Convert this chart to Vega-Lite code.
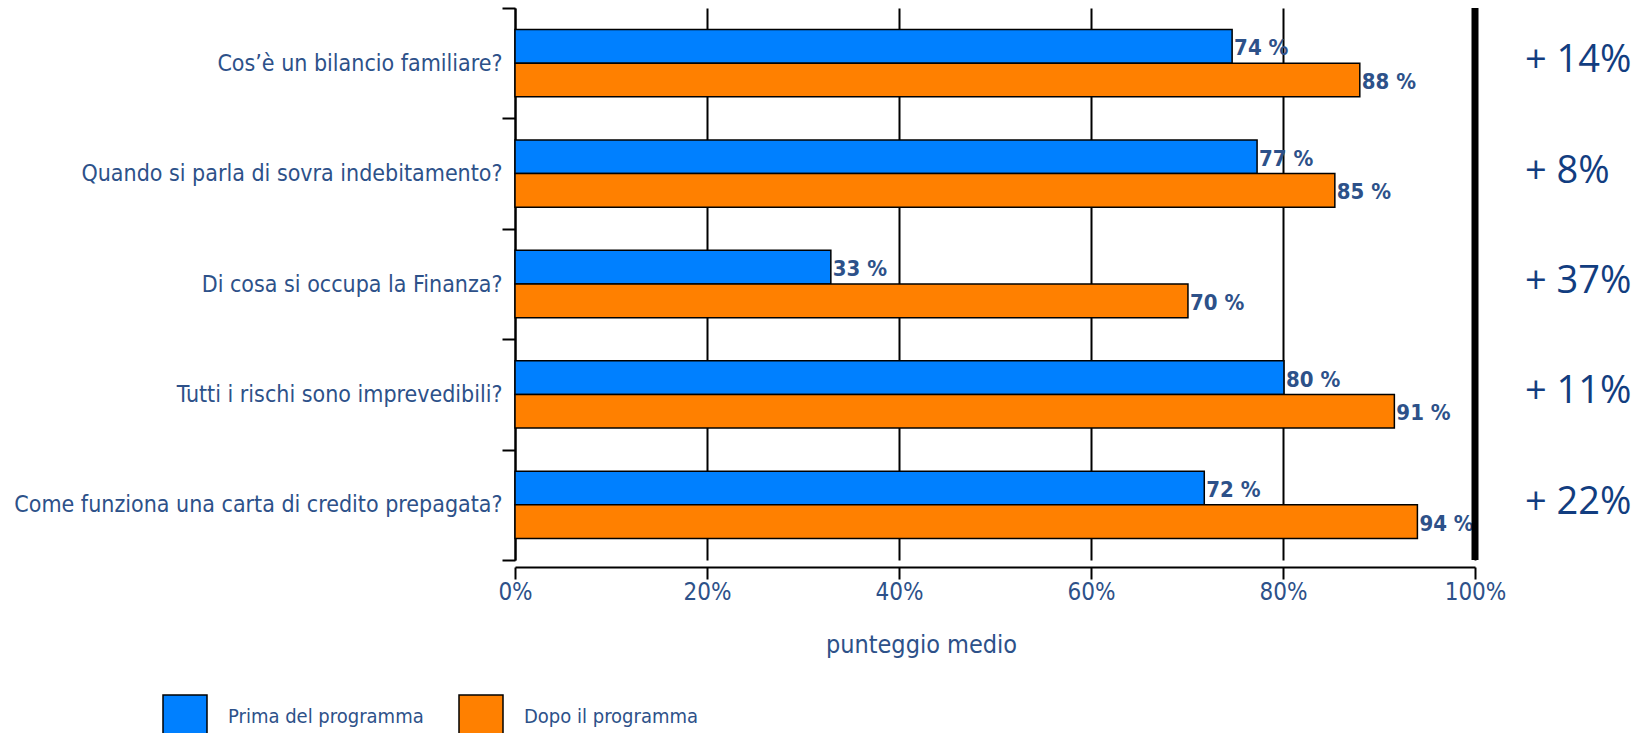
{
  "$schema": "https://vega.github.io/schema/vega-lite/v6.json",
  "width": 960,
  "height": 552,
  "autosize": {"type": "none"},
  "padding": {"left": 515, "top": 8, "right": 167, "bottom": 173},
  "background": "white",
  "config": {"view": {"stroke": null}, "font": "DejaVu Sans Condensed"},
  "datasets": {
    "barre": [
      {"domanda": "Cos’è un bilancio familiare?", "fase": "Prima del programma", "valore": 74.7, "etichetta": "74 %"},
      {"domanda": "Cos’è un bilancio familiare?", "fase": "Dopo il programma", "valore": 88, "etichetta": "88 %"},
      {"domanda": "Quando si parla di sovra indebitamento?", "fase": "Prima del programma", "valore": 77.3, "etichetta": "77 %"},
      {"domanda": "Quando si parla di sovra indebitamento?", "fase": "Dopo il programma", "valore": 85.4, "etichetta": "85 %"},
      {"domanda": "Di cosa si occupa la Finanza?", "fase": "Prima del programma", "valore": 32.9, "etichetta": "33 %"},
      {"domanda": "Di cosa si occupa la Finanza?", "fase": "Dopo il programma", "valore": 70.1, "etichetta": "70 %"},
      {"domanda": "Tutti i rischi sono imprevedibili?", "fase": "Prima del programma", "valore": 80.1, "etichetta": "80 %"},
      {"domanda": "Tutti i rischi sono imprevedibili?", "fase": "Dopo il programma", "valore": 91.6, "etichetta": "91 %"},
      {"domanda": "Come funziona una carta di credito prepagata?", "fase": "Prima del programma", "valore": 71.8, "etichetta": "72 %"},
      {"domanda": "Come funziona una carta di credito prepagata?", "fase": "Dopo il programma", "valore": 94, "etichetta": "94 %"}
    ],
    "differenze": [
      {"domanda": "Cos’è un bilancio familiare?", "testo": "+ 14%"},
      {"domanda": "Quando si parla di sovra indebitamento?", "testo": "+ 8%"},
      {"domanda": "Di cosa si occupa la Finanza?", "testo": "+ 37%"},
      {"domanda": "Tutti i rischi sono imprevedibili?", "testo": "+ 11%"},
      {"domanda": "Come funziona una carta di credito prepagata?", "testo": "+ 22%"}
    ]
  },
  "layer": [
    {
      "data": {"name": "barre"},
      "mark": {"type": "bar", "stroke": "black", "strokeWidth": 1.5},
      "encoding": {
        "y": {
          "field": "domanda", "type": "nominal", "title": null,
          "sort": ["Cos’è un bilancio familiare?", "Quando si parla di sovra indebitamento?", "Di cosa si occupa la Finanza?", "Tutti i rischi sono imprevedibili?", "Come funziona una carta di credito prepagata?"],
          "scale": {"paddingInner": 0, "paddingOuter": 0},
          "axis": {"tickBand": "extent", "tickSize": 13, "labelPadding": 0, "labelFontSize": 23, "labelColor": "#2D5189", "labelLimit": 600, "domainColor": "black", "domainWidth": 2, "tickColor": "black", "tickWidth": 2, "grid": false}
        },
        "yOffset": {"field": "fase", "type": "nominal", "sort": ["Prima del programma", "Dopo il programma"], "scale": {"paddingInner": 0, "paddingOuter": 0.64}},
        "x": {
          "field": "valore", "type": "quantitative", "title": "punteggio medio",
          "scale": {"domain": [0, 100]},
          "axis": {"values": [0, 20, 40, 60, 80, 100], "labelExpr": "datum.value + '%'", "offset": 7, "tickSize": 12, "labelPadding": 1, "labelFontSize": 24, "labelColor": "#2D5189", "labelFlush": false, "grid": true, "gridColor": "black", "gridWidth": 2, "domainColor": "black", "domainWidth": 2, "tickColor": "black", "tickWidth": 2, "titleFontSize": 25, "titleFontWeight": "normal", "titleColor": "#2D5189", "titleX": 406, "titleY": 77, "titleBaseline": "middle", "titleAlign": "center"}
        },
        "color": {
          "field": "fase", "type": "nominal",
          "scale": {"domain": ["Prima del programma", "Dopo il programma"], "range": ["#0080FF", "#FF8000"]},
          "legend": {"orient": "none", "legendX": -353, "legendY": 686, "direction": "horizontal", "title": null, "symbolType": "square", "symbolSize": 1936, "symbolStrokeColor": "black", "symbolStrokeWidth": 1.5, "symbolOpacity": 1, "labelFontSize": 20, "labelOffset": 20, "labelLimit": 400, "labelBaseline": "middle", "columnPadding": 32, "labelColor": "#2D5189"}
        }
      }
    },
    {
      "data": {"name": "barre"},
      "mark": {"type": "text", "align": "left", "baseline": "middle", "dx": 2, "dy": 2, "fontWeight": "bold", "fontSize": 22, "color": "#2D5189"},
      "encoding": {
        "y": {"field": "domanda", "type": "nominal", "sort": ["Cos’è un bilancio familiare?", "Quando si parla di sovra indebitamento?", "Di cosa si occupa la Finanza?", "Tutti i rischi sono imprevedibili?", "Come funziona una carta di credito prepagata?"]},
        "yOffset": {"field": "fase", "type": "nominal", "sort": ["Prima del programma", "Dopo il programma"]},
        "x": {"field": "valore", "type": "quantitative"},
        "text": {"field": "etichetta"}
      }
    },
    {
      "data": {"values": [{}]},
      "mark": {"type": "rule", "strokeWidth": 7, "color": "black"},
      "encoding": {"x": {"datum": 100}}
    },
    {
      "data": {"name": "differenze"},
      "mark": {"type": "text", "align": "left", "baseline": "middle", "dy": -2, "font": "Open Sans", "fontSize": 38, "color": "#123D80"},
      "encoding": {
        "y": {"field": "domanda", "type": "nominal", "sort": ["Cos’è un bilancio familiare?", "Quando si parla di sovra indebitamento?", "Di cosa si occupa la Finanza?", "Tutti i rischi sono imprevedibili?", "Come funziona una carta di credito prepagata?"]},
        "x": {"datum": 105.2},
        "text": {"field": "testo"}
      }
    }
  ]
}
